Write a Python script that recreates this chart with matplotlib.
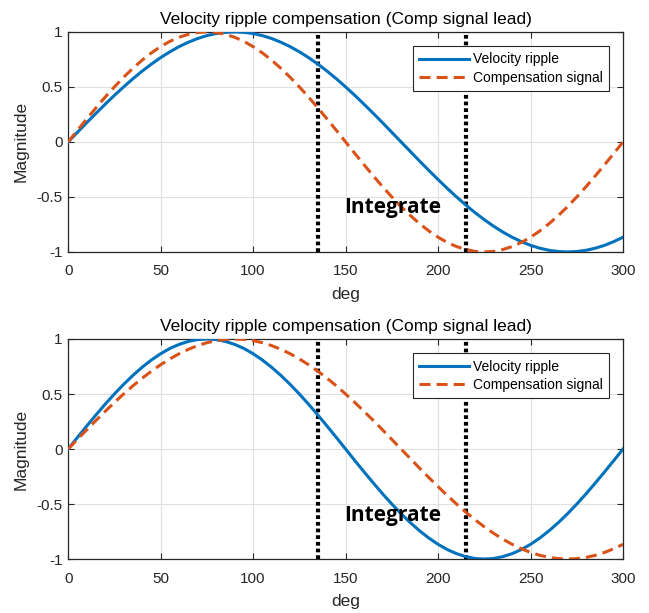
import matplotlib
matplotlib.use("Agg")
import matplotlib.pyplot as plt

deg = list(range(0, 301, 5))

# slower wave: peak at 90, trough at 270
slow_wave = [0.000, 0.087, 0.174, 0.259, 0.342, 0.423, 0.500, 0.574, 0.643, 0.707,
             0.766, 0.819, 0.866, 0.906, 0.940, 0.966, 0.985, 0.996, 1.000, 0.996,
             0.985, 0.966, 0.940, 0.906, 0.866, 0.819, 0.766, 0.707, 0.643, 0.574,
             0.500, 0.423, 0.342, 0.259, 0.174, 0.087, 0.000, -0.087, -0.174, -0.259,
             -0.342, -0.423, -0.500, -0.574, -0.643, -0.707, -0.766, -0.819, -0.866, -0.906,
             -0.940, -0.966, -0.985, -0.996, -1.000, -0.996, -0.985, -0.966, -0.940, -0.906,
             -0.866]

# faster wave: peak at 75, trough at 225
fast_wave = [0.000, 0.105, 0.208, 0.309, 0.407, 0.500, 0.588, 0.669, 0.743, 0.809,
             0.866, 0.914, 0.951, 0.978, 0.995, 1.000, 0.995, 0.978, 0.951, 0.914,
             0.866, 0.809, 0.743, 0.669, 0.588, 0.500, 0.407, 0.309, 0.208, 0.105,
             0.000, -0.105, -0.208, -0.309, -0.407, -0.500, -0.588, -0.669, -0.743, -0.809,
             -0.866, -0.914, -0.951, -0.978, -0.995, -1.000, -0.995, -0.978, -0.951, -0.914,
             -0.866, -0.809, -0.743, -0.669, -0.588, -0.500, -0.407, -0.309, -0.208, -0.105,
             0.000]

panels = [
    ("Velocity ripple compensation (Comp signal lead)", slow_wave, fast_wave),
    ("Velocity ripple compensation (Comp signal lead)", fast_wave, slow_wave),
]
markers_x = [135, 215]
xticks = [0, 50, 100, 150, 200, 250, 300]
yticks = [-1, -0.5, 0, 0.5, 1]
ytick_labels = ["-1", "-0.5", "0", "0.5", "1"]

plt.rcParams["font.family"] = ["Liberation Sans", "DejaVu Sans"]

fig = plt.figure(figsize=(6.49, 6.13), dpi=100)
boxes = [[0.105, 0.589, 0.855, 0.359], [0.105, 0.088, 0.855, 0.359]]

for box, (title, ripple, comp) in zip(boxes, panels):
    ax = fig.add_axes(box)
    ax.plot(deg, ripple, color="#0072BD", lw=2.2, label="Velocity ripple", zorder=3)
    ax.plot(deg, comp, color="#D95319", lw=2.2, ls="--", dashes=(3.6, 2.0),
            label="Compensation signal", zorder=3)
    for mx in markers_x:
        ax.axvline(mx, color="black", lw=3, dashes=(0.9, 0.7), zorder=2)
    ax.text(149, -0.6, "Integrate", fontsize=15, fontweight="bold",
            family="Open Sans", va="center", ha="left", zorder=4)
    ax.set_xlim(0, 300)
    ax.set_ylim(-1, 1)
    ax.set_xticks(xticks)
    ax.set_yticks(yticks)
    ax.set_yticklabels(ytick_labels)
    ax.grid(True, color="#e0e0e0", lw=0.8)
    ax.set_axisbelow(True)
    ax.tick_params(direction="in", top=True, right=True, labelsize=11,
                   colors="#262626", length=4)
    ax.tick_params(axis="x", pad=9)
    ax.tick_params(axis="y", pad=4)
    for sp in ax.spines.values():
        sp.set_color("#262626")
        sp.set_linewidth(0.9)
    ax.set_title(title, fontsize=12.5, color="black", pad=6)
    ax.set_xlabel("deg", fontsize=12.5, color="#262626", labelpad=6)
    ax.set_ylabel("Magnitude", fontsize=12.5, color="#262626", labelpad=6)
    leg = ax.legend(loc="upper right", fontsize=10, frameon=True, fancybox=False,
                    framealpha=1, edgecolor="#262626", handlelength=3.6,
                    borderpad=0.45, labelspacing=0.3, handletextpad=0.3,
                    bbox_to_anchor=(0.975, 0.935), borderaxespad=0)
    leg.get_frame().set_linewidth(0.8)
    leg.set_zorder(5)

fig.savefig("out.png", dpi=100)
